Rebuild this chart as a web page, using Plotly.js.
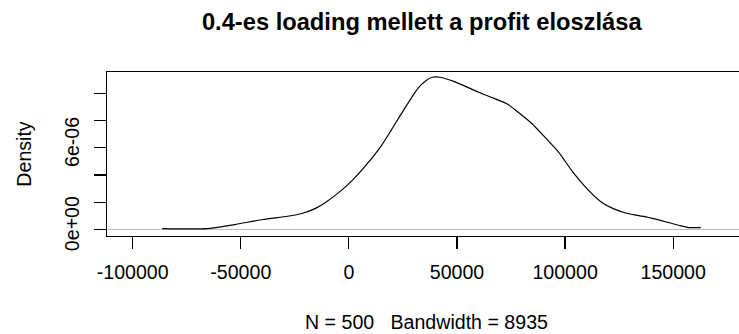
<!DOCTYPE html>
<html>
<head>
<meta charset="utf-8">
<script src="https://cdn.plot.ly/plotly-3.0.1.min.js"></script>
<style>
  html, body { margin: 0; padding: 0; background: #ffffff; overflow: hidden; }
  #chart { width: 739px; height: 334px; }
</style>
</head>
<body>
<div id="chart"></div>
<script>
// Kernel density estimate of the profit (x) and its density (y)
const profit = [
  -86400, -65700, -52900, -39700, -28400, -21800, -16200, -10500, -3900, 1700,
  8300, 14900, 19600, 25300, 31900, 35600, 38500, 42200, 48800, 58300,
  65800, 73300, 78000, 84600, 91200, 96900, 103500, 110100, 116700, 122300,
  128900, 137400, 144900, 152500, 157200, 162800
];
const density = [
  7e-8, 7e-8, 3.7e-7, 7.4e-7, 9.8e-7, 1.18e-6, 1.5e-6, 2.03e-6, 2.82e-6, 3.63e-6,
  4.80e-6, 6.13e-6, 7.30e-6, 8.77e-6, 1.037e-5, 1.093e-5, 1.118e-5, 1.118e-5, 1.086e-5, 1.02e-5,
  9.71e-6, 9.22e-6, 8.65e-6, 7.79e-6, 6.69e-6, 5.71e-6, 4.24e-6, 3.01e-6, 2.03e-6, 1.54e-6,
  1.18e-6, 9.3e-7, 6.4e-7, 3.2e-7, 1.5e-7, 1.5e-7
];

// Axis ticks
const xTickVals = [-100000, -50000, 0, 50000, 100000, 150000];
const xTickText = ["-100000", "-50000", "0", "50000", "100000", "150000"];
const yTickVals = [0, 2e-6, 4e-6, 6e-6, 8e-6, 1e-5];
const yTickText = ["0e+00", "", "", "6e-06", "", ""];

const titleText = "0.4-es loading mellett a profit eloszlása";
const subText = "N = 500\u00a0\u00a0\u00a0Bandwidth = 8935";
const yLabel = "Density";

const font = "'Liberation Sans', Arial, sans-serif";

const trace = {
  x: profit,
  y: density,
  type: "scatter",
  mode: "lines",
  line: { color: "#000000", width: 1.2, shape: "spline", smoothing: 0.6 },
  hoverinfo: "skip"
};

const layout = {
  width: 739,
  height: 334,
  margin: { l: 107, r: 0, t: 72, b: 98 },
  paper_bgcolor: "#ffffff",
  plot_bgcolor: "#ffffff",
  showlegend: false,
  font: { family: font, color: "#000000", size: 19.6 },
  title: {
    text: "<b>" + titleText + "</b>",
    font: { family: font, size: 23.7, color: "#000000" },
    xref: "paper", x: 0.498, xanchor: "center",
    yref: "container", y: 1 - 21.5 / 334, yanchor: "middle"
  },
  xaxis: {
    range: [-111890, 180440],
    tickmode: "array",
    tickvals: xTickVals,
    ticktext: xTickText,
    ticks: "outside",
    ticklen: 12,
    tickwidth: 1.2,
    tickcolor: "#000000",
    ticklabelstandoff: 6,
    showline: true,
    mirror: true,
    linecolor: "#000000",
    linewidth: 1.3,
    showgrid: false,
    zeroline: false,
    tickfont: { family: font, size: 19.6, color: "#000000" }
  },
  yaxis: {
    range: [-4.71e-7, 1.1566e-5],
    tickmode: "array",
    tickvals: yTickVals,
    ticktext: yTickText,
    tickangle: -90,
    ticks: "outside",
    ticklen: 12,
    tickwidth: 1.2,
    tickcolor: "#000000",
    ticklabelstandoff: 7,
    ticklabelshift: -3,
    showline: true,
    mirror: false,
    linecolor: "#000000",
    linewidth: 1.3,
    showgrid: false,
    zeroline: true,
    zerolinecolor: "#bebebe",
    zerolinewidth: 1,
    tickfont: { family: font, size: 19.6, color: "#000000" },
    title: { text: yLabel, font: { family: font, size: 19.6, color: "#000000" }, standoff: 24 }
  },
  annotations: [{
    text: subText,
    xref: "paper", x: (426.7 - 107) / 632, xanchor: "center",
    yref: "paper", y: (235.7 - 322) / 163.7, yanchor: "middle",
    showarrow: false,
    font: { family: font, size: 19.6, color: "#000000" }
  }]
};

Plotly.newPlot("chart", [trace], layout, { staticPlot: true, displayModeBar: false });
</script>
</body>
</html>
